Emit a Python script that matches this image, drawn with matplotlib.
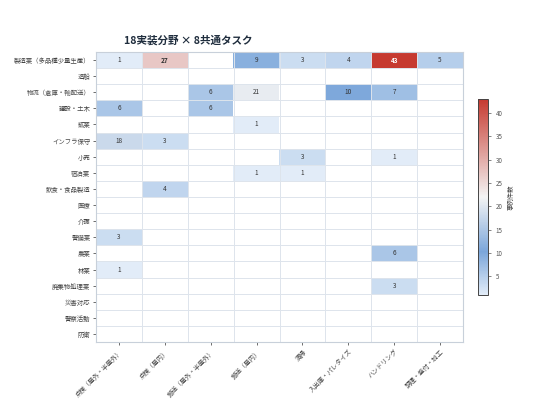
import numpy as np
import matplotlib
matplotlib.use("Agg")
import matplotlib.pyplot as plt
from matplotlib.colors import LinearSegmentedColormap

plt.rcParams['font.family'] = ['Noto Sans CJK JP', 'DejaVu Sans']

fields = ["製造業（多品種少量生産）", "造船", "物流（倉庫・輸配送）", "建設・土木", "鉱業",
          "インフラ保守", "小売", "宿泊業", "飲食・食品製造", "医療", "介護", "警備業",
          "農業", "林業", "廃棄物処理業", "災害対応", "警察活動", "防衛"]
tasks = ["点検（屋外・半屋外）", "点検（屋内）", "搬送（屋外・半屋外）", "搬送（屋内）",
         "清掃", "入出庫・パレタイズ", "ハンドリング", "調理・盛付・加工"]

counts = np.array([
    [1, 27, 0, 9, 3, 4, 43, 5],
    [0, 0, 0, 0, 0, 0, 0, 0],
    [0, 0, 6, 21, 0, 10, 7, 0],
    [6, 0, 6, 0, 0, 0, 0, 0],
    [0, 0, 0, 1, 0, 0, 0, 0],
    [18, 3, 0, 0, 0, 0, 0, 0],
    [0, 0, 0, 0, 3, 0, 1, 0],
    [0, 0, 0, 1, 1, 0, 0, 0],
    [0, 4, 0, 0, 0, 0, 0, 0],
    [0, 0, 0, 0, 0, 0, 0, 0],
    [0, 0, 0, 0, 0, 0, 0, 0],
    [3, 0, 0, 0, 0, 0, 0, 0],
    [0, 0, 0, 0, 0, 0, 6, 0],
    [1, 0, 0, 0, 0, 0, 0, 0],
    [0, 0, 0, 0, 0, 0, 3, 0],
    [0, 0, 0, 0, 0, 0, 0, 0],
    [0, 0, 0, 0, 0, 0, 0, 0],
    [0, 0, 0, 0, 0, 0, 0, 0],
])

cmap = LinearSegmentedColormap.from_list(
    "blue_white_red",
    [(0.0, "#e2ecf8"), (0.22, "#7ba6da"), (0.5, "#f4f4f4"), (1.0, "#c63a30")])
vmin, vmax = 1, 43

fig = plt.figure(figsize=(5.36, 4.04), dpi=100)
ax = fig.add_axes([96 / 536, 1 - 342 / 404, 367 / 536, 290 / 404])
cax = fig.add_axes([478 / 536, 1 - 295 / 404, 10 / 536, 196 / 404])

data = np.ma.masked_where(counts == 0, counts)
im = ax.imshow(data, cmap=cmap, vmin=vmin, vmax=vmax, aspect="auto",
               interpolation="nearest")

# cell borders
ax.set_xticks(np.arange(len(tasks) + 1) - 0.5, minor=True)
ax.set_yticks(np.arange(len(fields) + 1) - 0.5, minor=True)
ax.grid(which="minor", color="#dde4ec", lw=0.7)
ax.tick_params(which="minor", length=0)

ax.set_xticks(np.arange(len(tasks)))
ax.set_xticklabels(tasks, rotation=45, ha="right", rotation_mode="anchor",
                   fontsize=4.6, color="#444444")
ax.set_yticks(np.arange(len(fields)))
ax.set_yticklabels(fields, fontsize=4.6, color="#444444")
ax.tick_params(which="major", length=2, width=0.6, color="#555555", pad=2)
for s in ax.spines.values():
    s.set_color("#c8d0da")
    s.set_linewidth(0.8)

for i in range(counts.shape[0]):
    for j in range(counts.shape[1]):
        v = counts[i, j]
        if v == 0:
            continue
        col = "white" if v > 35 else "#333333"
        w = "bold" if v > 25 else "normal"
        ax.text(j, i, str(v), ha="center", va="center", fontsize=4.6,
                color=col, fontweight=w)

cb = fig.colorbar(im, cax=cax)
cb.set_ticks([5, 10, 15, 20, 25, 30, 35, 40])
cb.ax.tick_params(labelsize=4.5, length=2, width=0.5, colors="#555555")
cb.outline.set_edgecolor("#444444")
cb.outline.set_linewidth(0.7)
cb.set_label("事例件数", fontsize=4.6, color="#444444", labelpad=3)

fig.text(188 / 536, 1 - 40 / 404, "18実装分野 × 8共通タスク", ha="center",
         va="center", fontsize=7.6, fontweight="bold", color="#1f2d3d")

fig.savefig("out.png", dpi=100)
